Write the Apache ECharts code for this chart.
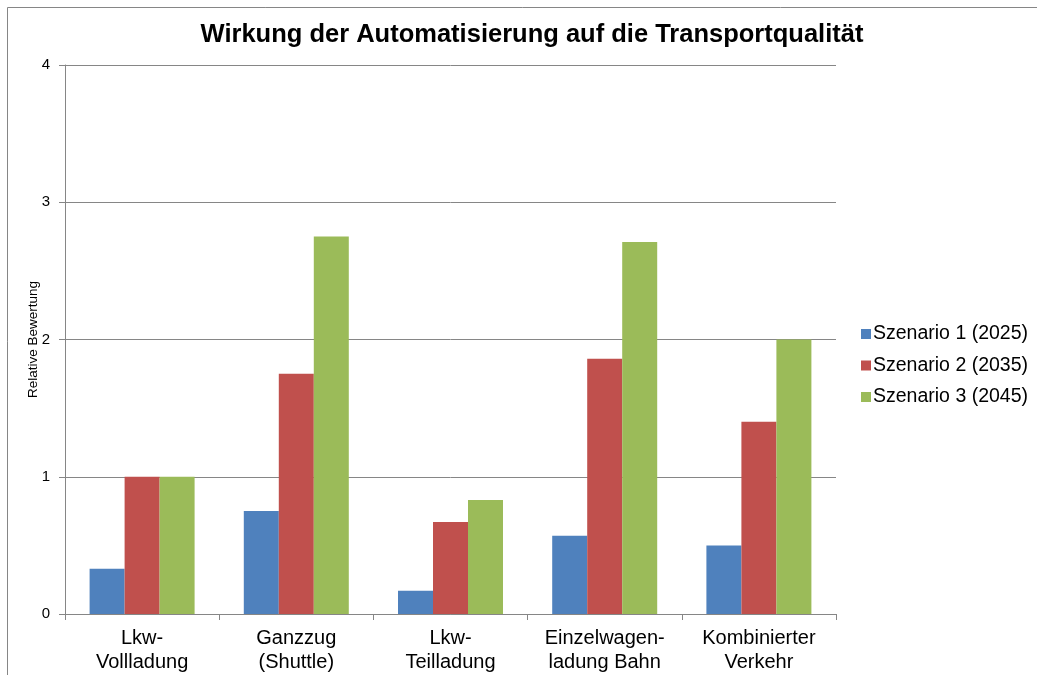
<!DOCTYPE html>
<html><head><meta charset="utf-8">
<script src="https://cdn.jsdelivr.net/npm/echarts@6/dist/echarts.min.js"></script>
<style>html,body{margin:0;padding:0;background:#fff}#c{width:1037px;height:675px}</style>
</head><body><div id="c"></div>
<script>
const categories = ["Lkw-\nVollladung", "Ganzzug\n(Shuttle)", "Lkw-\nTeilladung", "Einzelwagen-\nladung Bahn", "Kombinierter\nVerkehr"];
const seriesNames = ["Szenario 1 (2025)", "Szenario 2 (2035)", "Szenario 3 (2045)"];
const s1 = [0.33, 0.75, 0.17, 0.57, 0.5];
const s2 = [1.0, 1.75, 0.67, 1.86, 1.4];
const s3 = [1.0, 2.75, 0.83, 2.71, 2.0];
const colors = ["#4F81BD", "#C0504D", "#9BBB59"];
const font = "Liberation Sans, Arial, sans-serif";
const chart = echarts.init(document.getElementById('c'));
const mk = (name, data, color) => ({
  name, type: 'bar', data, barWidth: 35, barGap: '0%',
  itemStyle: { color }, animation: false
});
chart.setOption({
  animation: false,
  textStyle: { fontFamily: font },
  title: {
    text: "Wirkung der Automatisierung auf die Transportqualität",
    left: 527, top: 17, textAlign: 'center',
    textStyle: { fontSize: 25.5, fontWeight: 'bold', color: '#000', fontFamily: font }
  },
  graphic: [{ type: 'rect', shape: { x: 7.5, y: 7.5, width: 1100, height: 800 },
    style: { fill: 'none', stroke: '#868686', lineWidth: 1 }, silent: true }],
  legend: {
    orient: 'vertical', left: 856, top: 319, itemWidth: 10, itemHeight: 10, itemGap: 11.5,
    icon: 'rect',
    textStyle: { fontSize: 19.5, color: '#000', fontFamily: font, padding: [0,0,0,-3] },
    data: seriesNames
  },
  grid: { left: 65, right: 201, top: 65, bottom: 61, containLabel: false },
  xAxis: {
    type: 'category', data: categories,
    axisLine: { lineStyle: { color: '#868686', width: 1 } },
    axisTick: { show: true, length: 6, lineStyle: { color: '#868686' } },
    axisLabel: { fontSize: 20, color: '#000', lineHeight: 24, margin: 12, interval: 0, fontFamily: font }
  },
  yAxis: {
    type: 'value', min: 0, max: 4, interval: 1,
    name: 'Relative Bewertung', nameLocation: 'middle', nameGap: 25, nameRotate: 90,
    nameMoveOverlap: false,
    nameTextStyle: { fontSize: 13.5, color: '#000', fontFamily: font },
    axisLine: { show: true, lineStyle: { color: '#868686' } },
    axisTick: { show: true, length: 6, lineStyle: { color: '#868686' } },
    axisLabel: { fontSize: 15, color: '#000', margin: 15, fontFamily: font },
    splitLine: { lineStyle: { color: '#868686', width: 1 } }
  },
  series: [mk(seriesNames[0], s1, colors[0]), mk(seriesNames[1], s2, colors[1]), mk(seriesNames[2], s3, colors[2])]
});
</script></body></html>
